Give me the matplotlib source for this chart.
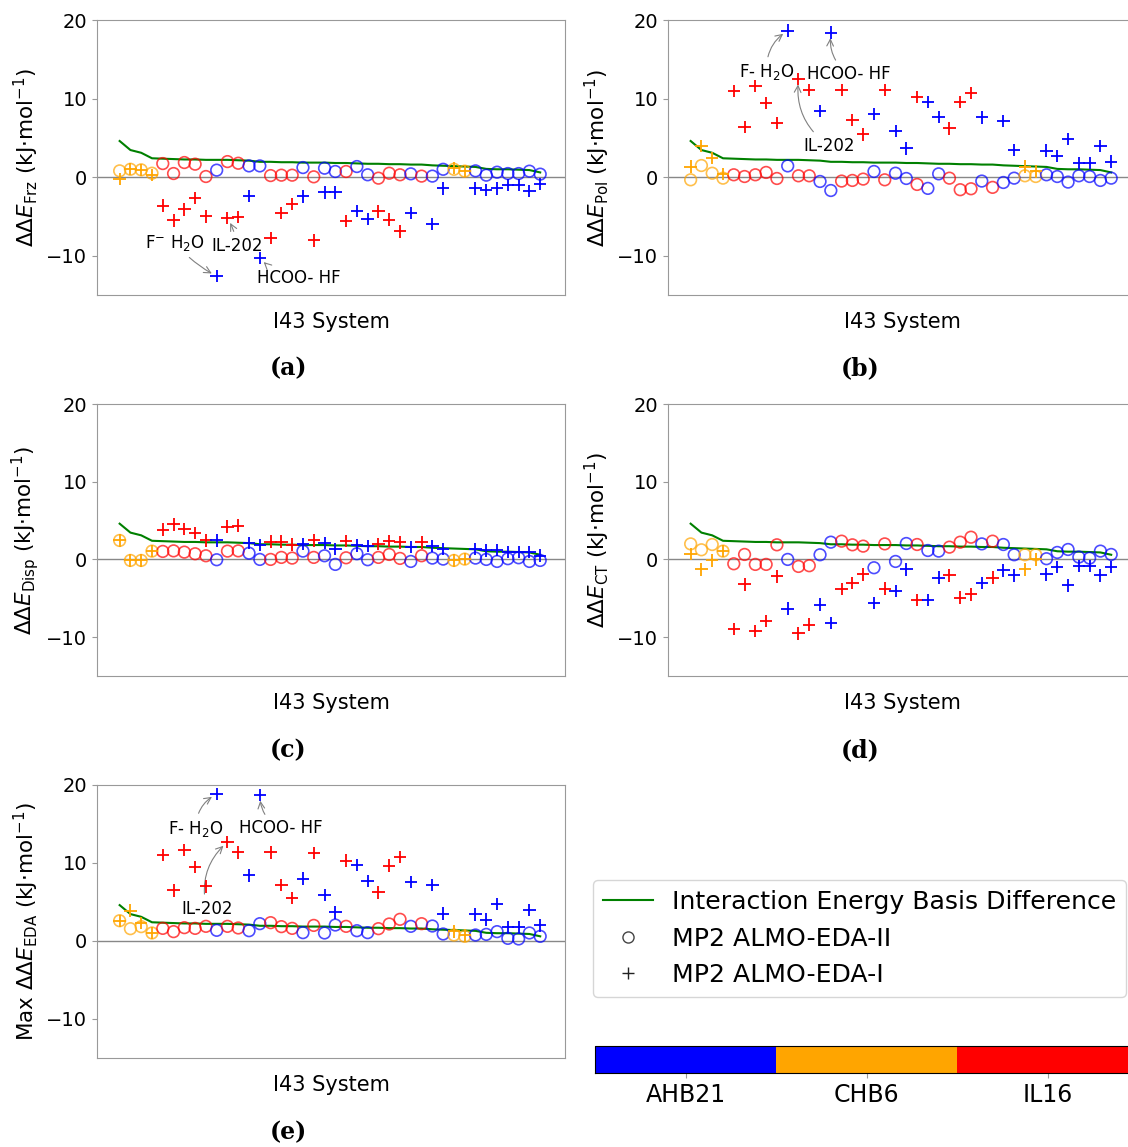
import numpy as np
import matplotlib
matplotlib.use("Agg")
import matplotlib.pyplot as plt
from matplotlib.colors import ListedColormap, BoundaryNorm
from matplotlib.lines import Line2D
import matplotlib.colorbar as mcolorbar

nan = np.nan

# dataset membership of each system along the x axis
systems = (['CHB6'] * 4 + ['IL16'] * 5 + ['AHB21'] + ['IL16'] * 2 + ['AHB21'] * 2 +
           ['IL16'] * 3 + ['AHB21'] + ['IL16'] + ['AHB21'] * 2 + ['IL16'] +
           ['AHB21'] * 2 + ['IL16'] * 3 + ['AHB21'] + ['IL16'] + ['AHB21'] * 2 +
           ['CHB6'] * 2 + ['AHB21'] * 7)
dataset_names = ['AHB21', 'CHB6', 'IL16']
dataset_colors = ['blue', 'orange', 'red']

basis_diff = [4.6, 3.45, 3.1, 2.4, 2.35, 2.3, 2.25, 2.25, 2.2, 2.2,
              2.2, 2.15, 2.1, 1.95, 1.95, 1.9, 1.9, 1.85, 1.85, 1.85,
              1.8, 1.8, 1.75, 1.7, 1.7, 1.65, 1.65, 1.6, 1.6, 1.5,
              1.45, 1.4, 1.35, 1.3, 1.05, 1.0, 1.0, 0.95, 0.9, 0.6]

# ALMO-EDA-II (circles)
frz_ii = [0.8, 1.0, 0.93, 0.5, 1.73, 0.46, 1.86, 1.65, 0.08, 0.89,
          1.98, 1.77, 1.43, 1.43, 0.2, 0.25, 0.25, 1.22, 0.04, 1.14,
          0.72, 0.72, 1.35, 0.3, -0.13, 0.5, 0.3, 0.42, 0.13, 0.13,
          1.0, 1.0, 0.76, 0.8, 0.25, 0.63, 0.46, 0.46, 0.76, 0.38]
pol_ii = [-0.34, 1.48, 0.5, -0.13, 0.3, 0.08, 0.3, 0.6, -0.17, 1.43,
          0.17, 0.17, -0.55, -1.7, -0.5, -0.42, -0.25, 0.72, -0.34, 0.5,
          -0.17, -0.93, -1.43, 0.42, -0.13, -1.6, -1.48, -0.5, -1.3, -0.68,
          -0.13, 0.17, 0.08, 0.3, 0.08, -0.63, 0.17, 0.08, -0.42, -0.13]
disp_ii = [2.44, -0.13, -0.13, 1.07, 1.03, 1.1, 0.94, 0.73, 0.47, -0.04,
           1.07, 1.1, 0.8, 0.0, 0.0, 0.26, 0.17, 1.07, 0.26, 0.47,
           -0.64, 0.21, 0.73, -0.04, 0.26, 0.64, 0.13, -0.26, 0.47, 0.17,
           0.04, -0.13, 0.04, 0.17, 0.0, -0.26, 0.09, 0.21, -0.26, -0.13]
ct_ii = [2.0, 1.24, 1.92, 1.07, -0.56, 0.64, -0.64, -0.64, 1.88, 0.0,
         -0.9, -0.81, 0.6, 2.22, 2.35, 1.88, 1.71, -1.07, 2.0, -0.26,
         2.05, 1.92, 1.15, 1.07, 1.58, 2.22, 2.86, 2.0, 2.35, 1.92,
         0.6, 0.6, 0.6, 0.09, 0.9, 1.28, 0.3, 0.17, 1.07, 0.64]
max_ii = [2.6, 1.58, 1.84, 1.03, 1.62, 1.2, 1.71, 1.62, 1.88, 1.37,
          1.88, 1.67, 1.32, 2.22, 2.35, 1.84, 1.62, 1.07, 2.0, 1.03,
          2.05, 1.88, 1.32, 1.07, 1.58, 2.18, 2.78, 1.88, 2.22, 1.92,
          0.9, 0.77, 0.6, 0.77, 0.85, 1.2, 0.34, 0.26, 1.03, 0.6]

# ALMO-EDA-I (plus)
frz_i = [-0.25, 1.0, 0.9, 0.25, -3.63, -5.5, -4.1, -2.66, -5.0, -12.6,
         -5.2, -5.1, -2.4, -10.3, -7.76, -4.56, -3.4, -2.45, -8.06, -1.94,
         -1.94, -5.6, -4.3, -5.3, -4.35, -5.4, -6.9, -4.56, nan, -5.95,
         -1.43, 1.18, 0.76, -1.43, -1.6, -1.43, -1.0, -1.0, -1.8, -0.9]
pol_i = [1.35, 3.97, 2.4, 0.42, 10.97, 6.4, 11.6, 9.45, 6.9, 18.65,
         12.5, 11.1, 8.4, 18.4, 11.1, 7.25, 5.44, 8.0, 11.1, 5.9,
         3.67, 10.2, 9.58, 7.64, 6.2, 9.58, 10.72, 7.6, nan, 7.17,
         3.46, 1.35, 0.72, 3.38, 2.7, 4.85, 1.77, 1.77, 3.97, 1.98]
disp_i = [2.44, -0.13, -0.13, 1.07, 3.85, 4.5, 3.93, 3.4, 2.44, 2.44,
          4.23, 4.36, 2.1, 1.88, 2.3, 2.3, 1.92, 2.0, 2.44, 2.1,
          1.37, 2.35, 1.8, 1.7, 2.0, 2.35, 2.2, 1.58, 2.18, 1.7,
          1.37, -0.13, 0.04, 1.37, 1.15, 1.24, 0.94, 0.94, 0.94, 0.5]
ct_i = [0.73, -1.28, -0.13, 1.07, -8.97, -3.2, -9.18, -7.9, -2.18, -6.32,
        -9.53, -8.38, -5.8, -8.16, -3.8, -3.03, -1.92, -5.6, -3.76, -4.06,
        -1.28, -5.25, -5.25, -2.35, -2.05, -4.92, -4.5, -3.03, -2.35, -1.41,
        -2.05, -1.28, 0.0, -1.92, -0.98, -3.33, -0.81, -0.81, -2.05, -0.98]
max_i = [2.6, 3.9, 2.3, 1.03, 11.0, 6.5, 11.7, 9.5, 7.0, 18.85,
         12.7, 11.37, 8.4, 18.7, 11.37, 7.2, 5.5, 8.0, 11.3, 5.9,
         3.67, 10.3, 9.74, 7.7, 6.24, 9.66, 10.77, 7.6, nan, 7.2,
         3.5, 1.24, 0.73, 3.42, 2.73, 4.74, 1.75, 1.75, 4.0, 2.0]

ylabels = [r'$\Delta\Delta E_{\mathrm{Frz}}$ (kJ$\cdot$mol$^{-1}$)',
           r'$\Delta\Delta E_{\mathrm{Pol}}$ (kJ$\cdot$mol$^{-1}$)',
           r'$\Delta\Delta E_{\mathrm{Disp}}$ (kJ$\cdot$mol$^{-1}$)',
           r'$\Delta\Delta E_{\mathrm{CT}}$ (kJ$\cdot$mol$^{-1}$)',
           r'Max $\Delta\Delta E_{\mathrm{EDA}}$ (kJ$\cdot$mol$^{-1}$)']
panel_letters = ['(a)', '(b)', '(c)', '(d)', '(e)']
xlabel_text = 'I43 System'
legend_labels = ['Interaction Energy Basis Difference', 'MP2 ALMO-EDA-II', 'MP2 ALMO-EDA-I']

W, H = 1128, 1147
fig = plt.figure(figsize=(W / 100, H / 100), dpi=100)


def pos(l, t, r, b):
    return [l / W, 1 - b / H, (r - l) / W, (b - t) / H]


boxes = [(97, 20, 565, 295), (668, 20, 1136, 295),
         (97, 404, 565, 676), (668, 404, 1136, 676),
         (97, 785, 565, 1058)]
label_pos = [(288, 368), (860, 368), (288, 750), (860, 750), (288, 1132)]

ii_data = [frz_ii, pol_ii, disp_ii, ct_ii, max_ii]
i_data = [frz_i, pol_i, disp_i, ct_i, max_i]

x = np.arange(len(systems))
cols = [dataset_colors[dataset_names.index(s)] for s in systems]
spine_col = '#999999'

# annotations: (label, system index, offset in points, curvature)
annots = {
    0: [(r'F$^{-}$ H$_2$O', 9, (-30, 24), 0.1),
        ('IL-202', 10, (7, -20), 0.1),
        ('HCOO- HF', 13, (28, -14), -0.2)],
    1: [(r'F- H$_2$O', 9, (-15, -30), -0.3),
        ('HCOO- HF', 13, (13, -30), -0.3),
        ('IL-202', 10, (22, -48), -0.3)],
    4: [(r'F- H$_2$O', 9, (-15, -25), -0.3),
        ('HCOO- HF', 13, (15, -24), -0.3),
        ('IL-202', 10, (-15, -48), -0.3)],
}

for k in range(5):
    ax = fig.add_axes(pos(*boxes[k]))
    ax.axhline(0, color='#888888', lw=1.0, zorder=1)
    ax.plot(x, basis_diff, color='green', lw=1.5, zorder=2)
    ax.scatter(x, ii_data[k], s=70, facecolors='none', edgecolors=cols,
               linewidths=1.2, alpha=0.7, zorder=3)
    ax.scatter(x, i_data[k], s=80, marker='+', c=cols, linewidths=1.3, zorder=4)
    ax.set_xlim(-2.1, 41.3)
    ax.set_ylim(-15, 20)
    ax.set_yticks([-10, 0, 10, 20])
    ax.set_xticks([])
    ax.tick_params(axis='y', labelsize=14, color=spine_col)
    for sp in ax.spines.values():
        sp.set_color(spine_col)
    ax.set_xlabel(xlabel_text, fontsize=15, labelpad=12)
    ax.set_ylabel(ylabels[k], fontsize=15.5)
    for (txt, idx, off, rad) in annots.get(k, []):
        ax.annotate(txt, xy=(x[idx], i_data[k][idx]), xytext=off,
                    textcoords='offset points', ha='center', va='center',
                    fontsize=12,
                    arrowprops=dict(arrowstyle='->', color='gray', lw=0.8,
                                    shrinkA=2, shrinkB=4,
                                    connectionstyle='arc3,rad=%s' % rad))
    lx, ly = label_pos[k]
    fig.text(lx / W, 1 - ly / H, panel_letters[k], ha='center', va='center',
             fontsize=17, family='DejaVu Serif', fontweight='bold')

handles = [Line2D([], [], color='green', lw=1.5),
           Line2D([], [], marker='o', ls='', mfc='none', mec='#444444', ms=8),
           Line2D([], [], marker='+', ls='', color='#222222', ms=8)]
fig.legend(handles, legend_labels, loc='upper left',
           bbox_to_anchor=(593 / W, 1 - 880 / H), fontsize=18.1,
           frameon=True, borderaxespad=0, handletextpad=0.75)

cax = fig.add_axes(pos(595, 1046, 1138, 1073))
cmap = ListedColormap(dataset_colors)
norm = BoundaryNorm([0, 1, 2, 3], cmap.N)
cb = mcolorbar.ColorbarBase(cax, cmap=cmap, norm=norm, orientation='horizontal',
                            ticks=[0.5, 1.5, 2.5])
cb.set_ticklabels(dataset_names)
cb.ax.minorticks_off()
cb.ax.tick_params(labelsize=17, color=spine_col)

fig.savefig('out.png', dpi=100)
